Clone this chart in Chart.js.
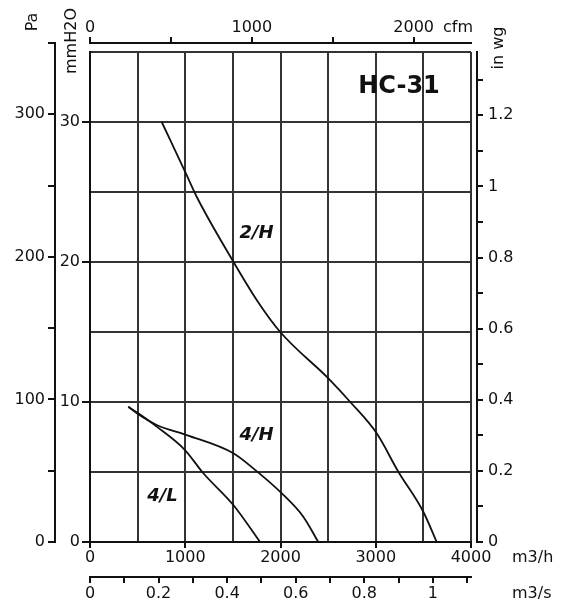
<!DOCTYPE html>
<html><head><meta charset="utf-8">
<script src="https://cdn.jsdelivr.net/npm/chart.js@4.4.1/dist/chart.umd.min.js"></script>
<style>html,body{margin:0;padding:0;background:#fff;}canvas{display:block;}</style>
</head><body>
<canvas id="c" width="568" height="605"></canvas>
<script>
// ---- data (flow in m3/h, static pressure in mmH2O) ----
const flow2H = [753, 1015, 1120, 1505, 1750, 1995, 2520, 2730, 3010, 3237, 3499, 3640];
const press2H = [30.0, 26.2, 24.66, 20.02, 17.29, 15.02, 11.57, 10.02, 7.76, 5.02, 2.16, 0];
const flow4H = [402, 507, 700, 1015, 1505, 1714, 2013, 2239, 2397];
const press4H = [9.66, 9.12, 8.36, 7.64, 6.34, 5.26, 3.48, 1.81, 0];
const flow4L = [402, 507, 700, 997, 1190, 1505, 1785];
const press4L = [9.66, 9.19, 8.24, 6.57, 4.91, 2.64, 0];

const curveNames = ['2/H', '4/H', '4/L'];
const curveLabelFlow = [1748, 1748, 761];
const curveLabelPress = [22.05, 7.64, 3.29];

// tick labels
const m3hLabels = [0, 1000, 2000, 3000, 4000];
const m3sLabels = [0, 0.2, 0.4, 0.6, 0.8, 1];
const cfmTicks = [0, 500, 1000, 1500, 2000];
const cfmLabels = [0, 1000, 2000];
const mmLabels = [0, 10, 20, 30];
const paLabels = [0, 100, 200, 300];
const inLabels = [0, 0.2, 0.4, 0.6, 0.8, 1, 1.2];
const modelName = 'HC-31';

// ---- helpers ----
const FONT = 'DejaVu Sans';
const tickFont = {family: FONT, size: 16};
const INK = '#111';
const near = (arr, v) => arr.some(a => Math.abs(a - v) < 1e-6);
const fmt = v => String(Number(v.toFixed(2)));
const pts = (xs, ys) => xs.map((x, i) => ({x, y: ys[i]}));
const none = 'rgba(0,0,0,0)';

function labelCb(arr) { return v => near(arr, v) ? fmt(v) : ''; }
function tickCol(arr) { return ctx => (ctx.tick && near(arr, ctx.tick.value)) ? INK : none; }

const curveStyle = {borderColor: INK, borderWidth: 1.8, pointRadius: 0, fill: false, cubicInterpolationMode: 'monotone'};

// exact placement of axes
const BOX = {
  area: {left: 90, top: 52, right: 471, bottom: 542},
  y:   {left: 55,  right: 90,  top: 52, bottom: 542},
  yPa: {left: 0,   right: 55,  top: 43, bottom: 542},
  yIn: {left: 477, right: 568, top: 52, bottom: 542},
  x:   {left: 90,  right: 471, top: 542, bottom: 570},
  xS:  {left: 90,  right: 471, top: 577, bottom: 605},
  xC:  {left: 90,  right: 471, top: 0,   bottom: 43}
};

const placePlugin = {
  id: 'place',
  afterLayout(chart) {
    const a = BOX.area;
    chart.chartArea = {left: a.left, top: a.top, right: a.right, bottom: a.bottom,
      width: a.right - a.left, height: a.bottom - a.top};
    for (const id of ['y', 'yPa', 'yIn', 'x', 'xS', 'xC']) {
      const s = chart.scales[id], b = BOX[id];
      s.left = b.left; s.right = b.right; s.top = b.top; s.bottom = b.bottom;
      s.width = b.right - b.left; s.height = b.bottom - b.top;
      s.configure();
    }
  }
};

const textPlugin = {
  id: 'texts',
  afterDraw(chart) {
    const ctx = chart.ctx;
    const xs = chart.scales.x, ys = chart.scales.y;
    ctx.save();
    ctx.fillStyle = INK;
    ctx.textBaseline = 'middle';
    // model name
    ctx.font = 'bold 24px "' + FONT + '"';
    ctx.textAlign = 'center';
    ctx.fillText(modelName, 399, 87);
    // curve names
    ctx.font = 'italic bold 18px "' + FONT + '"';
    curveNames.forEach((n, i) => {
      ctx.fillText(n, xs.getPixelForValue(curveLabelFlow[i]), ys.getPixelForValue(curveLabelPress[i]));
    });
    // unit labels
    ctx.font = '16px "' + FONT + '"';
    ctx.textAlign = 'left';
    ctx.fillText('cfm', 443, 28);
    ctx.fillText('m3/h', 512, 558);
    ctx.fillText('m3/s', 512, 594);
    const vert = (t, x, y) => {
      ctx.save(); ctx.translate(x, y); ctx.rotate(-Math.PI / 2);
      ctx.textAlign = 'center'; ctx.fillText(t, 0, 0); ctx.restore();
    };
    vert('Pa', 33, 22);
    vert('mmH2O', 72, 41);
    vert('in wg', 499, 48);
    ctx.restore();
  }
};

new Chart(document.getElementById('c'), {
  type: 'line',
  data: {
    datasets: [
      Object.assign({label: curveNames[0], data: pts(flow2H, press2H)}, curveStyle),
      Object.assign({label: curveNames[1], data: pts(flow4H, press4H)}, curveStyle),
      Object.assign({label: curveNames[2], data: pts(flow4L, press4L)}, curveStyle)
    ]
  },
  options: {
    responsive: false,
    animation: false,
    devicePixelRatio: 1,
    layout: {padding: {left: 0, right: 0, top: 0, bottom: 0}},
    plugins: {legend: {display: false}, tooltip: {enabled: false}},
    scales: {
      x: {
        type: 'linear', position: 'bottom', weight: 0, min: 0, max: 4000,
        ticks: {stepSize: 500, autoSkip: false, maxRotation: 0, minRotation: 0, font: tickFont, color: INK, padding: 0,
          callback: labelCb(m3hLabels)},
        grid: {color: '#333', lineWidth: 2, tickLength: 6, tickColor: tickCol(m3hLabels), tickWidth: 2},
        border: {color: INK, width: 2}
      },
      xS: {
        type: 'linear', position: 'bottom', weight: 1, min: 0, max: 4000 / 3600,
        ticks: {stepSize: 0.1, includeBounds: false, autoSkip: false, maxRotation: 0, minRotation: 0, font: tickFont, color: INK, padding: 1,
          callback: labelCb(m3sLabels)},
        grid: {drawOnChartArea: false, color: INK, lineWidth: 2, tickLength: 6},
        border: {color: INK, width: 2}
      },
      xC: {
        type: 'linear', position: 'top', min: 0, max: 4000 / 1.699,
        afterBuildTicks: s => { s.ticks = cfmTicks.map(v => ({value: v})); },
        ticks: {autoSkip: false, maxRotation: 0, minRotation: 0, font: tickFont, color: INK, padding: 0,
          callback: labelCb(cfmLabels)},
        grid: {drawOnChartArea: false, color: INK, lineWidth: 2, tickLength: 6},
        border: {color: INK, width: 2}
      },
      y: {
        type: 'linear', position: 'left', weight: 0, min: 0, max: 35,
        ticks: {stepSize: 5, autoSkip: false, font: tickFont, color: INK, padding: 2,
          callback: labelCb(mmLabels)},
        grid: {color: '#333', lineWidth: 2, tickLength: 8, tickColor: tickCol(mmLabels), tickWidth: 2},
        border: {color: INK, width: 2}
      },
      yPa: {
        type: 'linear', position: 'left', weight: 1, min: 0, max: 350,
        ticks: {stepSize: 50, autoSkip: false, font: tickFont, color: INK, padding: 3,
          callback: labelCb(paLabels)},
        grid: {drawOnChartArea: false, color: INK, lineWidth: 2, tickLength: 7},
        border: {color: INK, width: 2}
      },
      yIn: {
        type: 'linear', position: 'right', min: 0, max: 35 / 25.4,
        ticks: {stepSize: 0.1, includeBounds: false, autoSkip: false, font: tickFont, color: INK, padding: 5,
          callback: labelCb(inLabels)},
        grid: {drawOnChartArea: false, color: INK, lineWidth: 2, tickLength: 6},
        border: {color: INK, width: 2}
      }
    }
  },
  plugins: [placePlugin, textPlugin]
});
</script>
</body></html>
